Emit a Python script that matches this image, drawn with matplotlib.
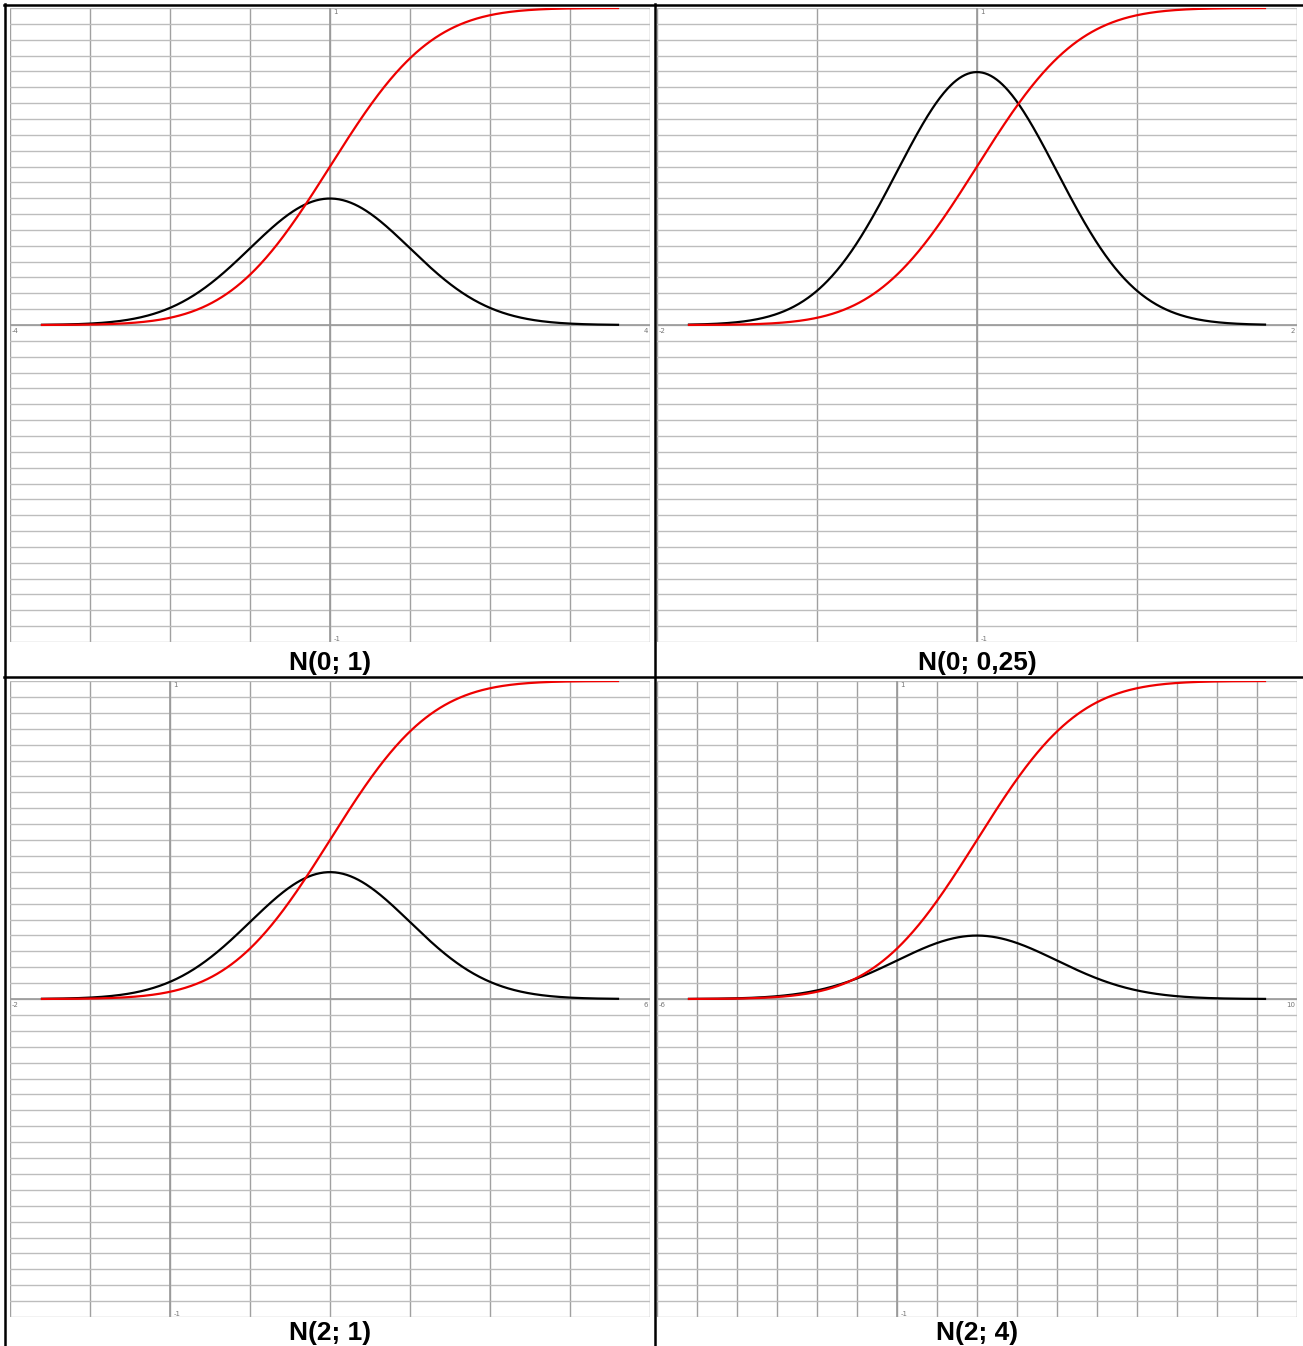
import math
import numpy as np
import matplotlib
matplotlib.use("Agg")
import matplotlib.pyplot as plt
from matplotlib.lines import Line2D

# 四个面板的参数
titles = ["N(0; 1)", "N(0; 0,25)", "N(2; 1)", "N(2; 4)"]
mus = [0, 0, 2, 2]
variances = [1, 0.25, 1, 4]
x_mins = [-4, -2, -2, -6]
x_maxs = [4, 2, 6, 10]
x_labels = [("-4", "4"), ("-2", "2"), ("-2", "6"), ("-6", "10")]
y_labels = ("1", "-1")

W, H = 1303, 1346

# 面板在图中的像素位置 (left, top, right, bottom)
rects = [(10, 8, 650, 642), (657, 8, 1297, 642),
         (10, 681, 650, 1317), (657, 681, 1297, 1317)]
title_y = [663, 663, 1333, 1333]


def px_rect(l, t, r, b):
    return [l / W, 1 - b / H, (r - l) / W, (b - t) / H]


def NormalPdf(x, mu, sigma):
    return np.exp(-0.5 * ((x - mu) / sigma) ** 2) / (sigma * np.sqrt(2 * np.pi))


def NormalCdf(x, mu, sigma):
    erf = np.vectorize(math.erf)
    return 0.5 * (1 + erf((x - mu) / (sigma * np.sqrt(2))))


fig = plt.figure(figsize=(W / 100, H / 100), dpi=100)
fig.patch.set_facecolor("white")

for i in range(4):
    ax = fig.add_axes(px_rect(*rects[i]))
    ax.set_xlim(x_mins[i], x_maxs[i])
    ax.set_ylim(-1, 1)
    for s in ax.spines.values():
        s.set_visible(False)
    ax.set_xticks(np.arange(x_mins[i], x_maxs[i] + 0.001, 1))
    ax.set_yticks(np.arange(-1, 1.001, 0.05))
    ax.tick_params(length=0, labelbottom=False, labelleft=False)
    ax.grid(axis="y", color="#bdbdbd", linewidth=1.0)
    ax.grid(axis="x", color="#a0a0a0", linewidth=1.0)
    ax.set_axisbelow(True)
    ax.axhline(0, color="#999999", linewidth=1.2, zorder=1)
    ax.axvline(0, color="#999999", linewidth=1.2, zorder=1)

    sigma = math.sqrt(variances[i])
    x = np.linspace(mus[i] - 3.6 * sigma, mus[i] + 3.6 * sigma, 600)
    ax.plot(x, NormalPdf(x, mus[i], sigma), color="black", linewidth=1.6, zorder=3)
    ax.plot(x, NormalCdf(x, mus[i], sigma), color="#ee0000", linewidth=1.6, zorder=4)

    # 小号坐标标签
    lab_kw = dict(fontsize=5, color="#777777", textcoords="offset points")
    ax.annotate(x_labels[i][0], (x_mins[i], 0), xytext=(1.5, -2), ha="left", va="top", **lab_kw)
    ax.annotate(x_labels[i][1], (x_maxs[i], 0), xytext=(-1.5, -2), ha="right", va="top", **lab_kw)
    ax.annotate(y_labels[0], (0, 1), xytext=(2.5, -1), ha="left", va="top", **lab_kw)
    ax.annotate(y_labels[1], (0, -1), xytext=(2.5, 0), ha="left", va="bottom", **lab_kw)

    l, t, r, b = rects[i]
    fig.text(((l + r) / 2) / W, 1 - title_y[i] / H, titles[i], ha="center", va="center",
             fontsize=19, fontweight="bold", family=["Liberation Sans", "DejaVu Sans"])

# 表格边框
def hline(y, x0, x1):
    fig.add_artist(Line2D([x0 / W, x1 / W], [1 - y / H, 1 - y / H], color="black", linewidth=1.8))


def vline(x, y0, y1):
    fig.add_artist(Line2D([x / W, x / W], [1 - y0 / H, 1 - y1 / H], color="black", linewidth=1.8))


hline(5, 4, W)
hline(677, 4, W)
vline(5, 4, H)
vline(655, 4, H)

fig.savefig("out.png", dpi=100, facecolor="white")
